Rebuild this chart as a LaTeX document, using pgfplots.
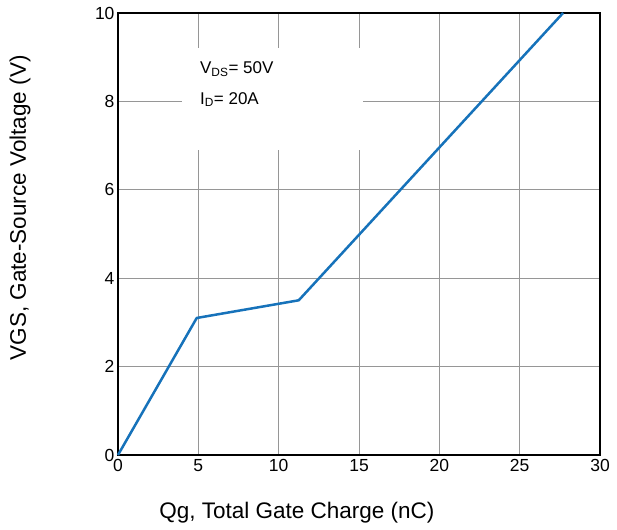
\documentclass[border=0pt]{standalone}
\usepackage{pgfplots}
\pgfplotsset{compat=1.18}
\usepackage{fontspec}
\setmainfont{Liberation Sans}
\usetikzlibrary{calc}
\definecolor{linec}{RGB}{22,114,186}
\definecolor{gridc}{RGB}{150,150,150}
\begin{document}
\begin{tikzpicture}
\begin{axis}[name=ax,
  scale only axis, width=482pt, height=442pt,
  xmin=0, xmax=30, ymin=0, ymax=10,
  xtick={0,5,...,30}, ytick={0,2,...,10},
  major tick length=0pt,
  grid=major,
  major grid style={draw=gridc, line width=0.9pt},
  axis line style={line width=1.8pt, black},
  /pgf/number format/assume math mode=true,
  ticklabel style={font=\fontsize{17.5}{20}\selectfont},
  xticklabel style={yshift=-1pt},
  xlabel={Qg, Total Gate Charge (nC)},
  ylabel={VGS, Gate-Source Voltage (V)},
  label style={font=\fontsize{22.5}{26}\selectfont},
  xlabel style={at={(axis description cs:0.371,-0.131)}, anchor=center},
  ylabel style={at={(axis description cs:-0.2033,0.559)}, anchor=center},
  clip=false,
]
\fill[white] (axis cs:4,6.9) rectangle (axis cs:15.25,9.21);
\addplot[linec, line width=2.5pt, line join=round] coordinates {(0,0) (4.9,3.1) (11.25,3.5) (27.7,10)};
\node[anchor=base west, inner sep=0pt, font=\fontsize{17}{20}\selectfont] at (axis cs:5.1,8.62) {V\textsubscript{DS}= 50V};
\node[anchor=base west, inner sep=0pt, font=\fontsize{17}{20}\selectfont] at (axis cs:5.1,7.94) {I\textsubscript{D}= 20A};
\end{axis}
\path ($(ax.south west)+(-118pt,-74pt)$) rectangle ($(ax.north east)+(17pt,13pt)$);
\end{tikzpicture}
\end{document}
